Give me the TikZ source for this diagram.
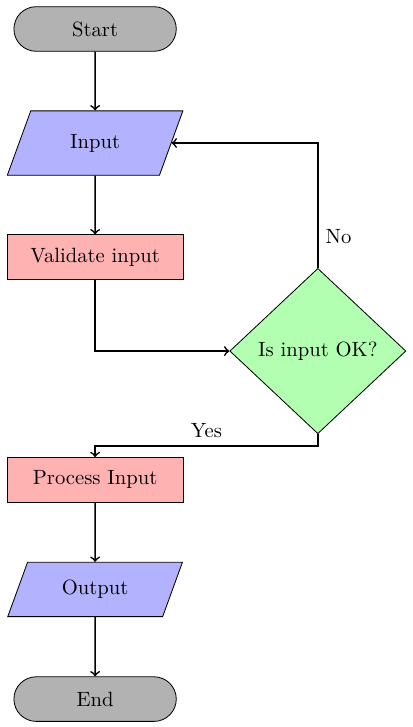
\documentclass[tikz,border=0pt]{standalone}
\usetikzlibrary{positioning, shapes.geometric, shapes.misc, arrows}
\tikzset{
	startstop/.style={rounded rectangle, minimum width=3cm, minimum height=0.76cm, draw=black, fill=gray!60}
}
\tikzset{
	io/.style={trapezium, trapezium left angle=70, trapezium right angle=110, minimum width=3cm, minimum height=0.92cm, draw=black, fill=blue!30}
}
\tikzset{
	process/.style={rectangle, minimum width=3cm, minimum height=0.76cm, draw=black, fill=red!30}
}
\tikzset{
	decision/.style={diamond, minimum width=3cm, draw=black, fill=green!30}
}
\tikzset{
	flowarrow/.style={thick, ->}
}

\begin{document}
\begin{tikzpicture}[node distance=1cm]
      \useasboundingbox (-1.62,0.494) rectangle (5.40,-11.89);
      \node (start) [startstop] at (0,0) {Start};
      \node (input) [io, below=of start, minimum height=1.1cm] {Input};
      \node (validate) [process, below=of input] {Validate input};
      \node (check) [decision, right=0.78cm of validate, yshift=-1.6cm] {Is input OK?};
      \node (proc) [process, below=3.02cm of validate] {Process Input};
      \node (output) [io, below=1.01cm of proc] {Output};
      \node (stop) [startstop, below=1.01cm of output] {End};
      \draw[flowarrow] (start) -- (input);
      \draw[flowarrow] (input) -- (validate);
      \draw[flowarrow] (validate.south) |- (check.west);
      \draw[flowarrow] (check.north) |- node[right, very near start] {No} (input.east);
      \draw[flowarrow] (check.south) -- ++(0,-0.2) -| node[above, near start] {Yes} (proc.north);
      \draw[flowarrow] (proc) -- (output);
      \draw[flowarrow] (output) -- (stop);
    \end{tikzpicture}
\end{document}
